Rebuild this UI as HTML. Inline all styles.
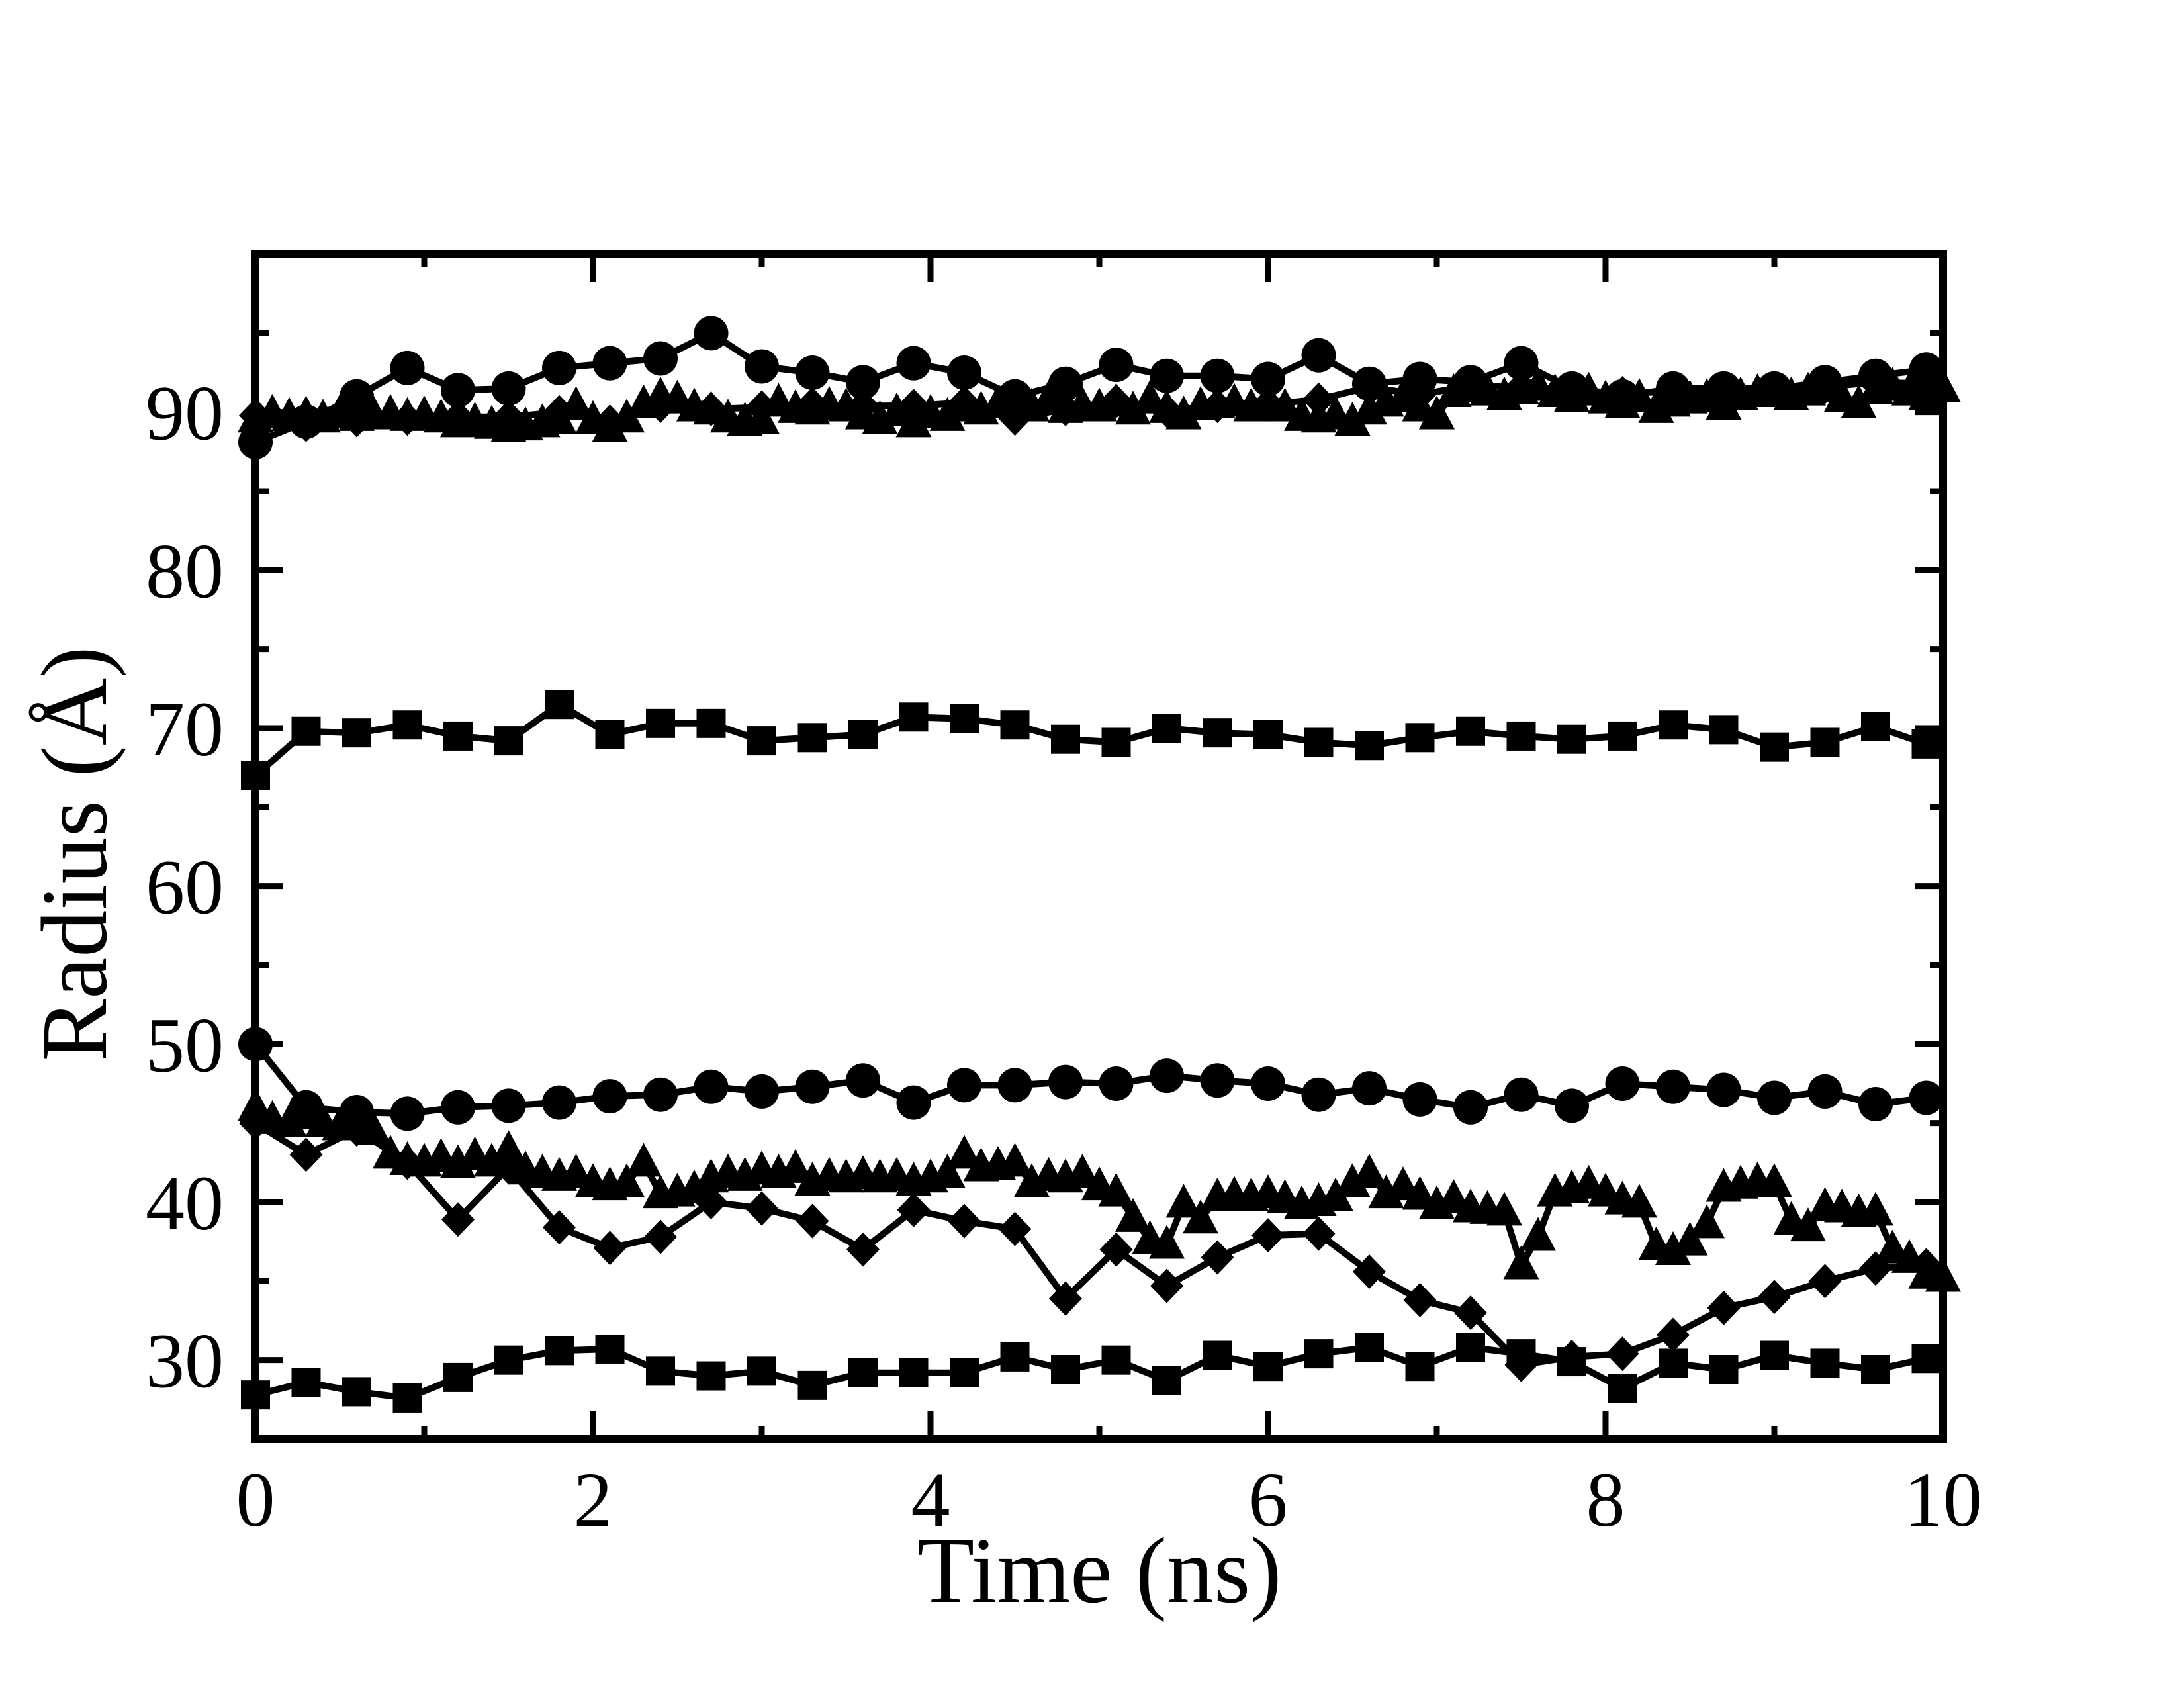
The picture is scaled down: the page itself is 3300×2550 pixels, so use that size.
<!DOCTYPE html>
<html><head><meta charset="utf-8"><style>
html,body{margin:0;padding:0;background:#fff;}
svg{display:block;}
text{font-family:"Liberation Serif",serif;fill:#000;}
</style></head><body>
<svg id="chart" width="3300" height="2550" viewBox="0 0 3300 2550" xmlns="http://www.w3.org/2000/svg">
<rect width="3300" height="2550" fill="#fff"/>
<g id="series"></g>
<g id="axes"></g>
<text x="1661" y="2420" font-size="142" text-anchor="middle">Time (ns)</text>
<text transform="translate(160,1290) rotate(-90)" font-size="142" text-anchor="middle">Radius (Å)</text>
</svg>
<script>
const xTicks=[0,2,4,6,8,10];
const yTicks=[30,40,50,60,70,80,90];
const xTickLabels=["0","2","4","6","8","10"];
const yTickLabels=["30","40","50","60","70","80","90"];
const sqLow=[27.8,28.6,28.0,27.6,28.9,30.0,30.6,30.7,29.3,29.0,29.3,28.4,29.2,29.2,29.2,30.2,29.4,30.0,28.7,30.3,29.6,30.4,30.8,29.6,30.8,30.4,29.9,28.2,29.8,29.4,30.3,29.8,29.4,30.1];
const sqHigh=[67.0,69.8,69.7,70.2,69.5,69.2,71.5,69.6,70.3,70.3,69.2,69.4,69.6,70.7,70.6,70.2,69.3,69.1,70.0,69.7,69.6,69.1,68.9,69.4,69.8,69.5,69.3,69.5,70.2,69.9,68.8,69.1,70.1,69.0];
const circLow=[50.0,46.0,45.7,45.6,46.0,46.1,46.3,46.7,46.8,47.3,47.0,47.3,47.7,46.3,47.4,47.4,47.6,47.5,48.0,47.7,47.5,46.8,47.2,46.5,46.0,46.8,46.1,47.5,47.3,47.1,46.6,47.0,46.2,46.6];
const circHigh=[88.1,89.4,91.0,92.8,91.4,91.5,92.8,93.1,93.4,95.0,92.9,92.5,91.9,93.1,92.5,91.0,91.8,93.0,92.3,92.3,92.1,93.6,91.8,92.1,91.9,93.1,91.5,91.0,91.5,91.5,91.5,91.9,92.3,92.7];
const diaLow=[45.0,43.0,44.6,42.5,38.9,42.2,38.4,37.1,37.8,40.0,39.6,38.8,37.0,39.5,38.8,38.3,33.9,37.0,34.7,36.5,37.9,38.0,35.6,33.8,33.0,29.7,30.2,30.4,31.6,33.3,34.0,35.0,35.8,36.0];
const diaHigh=[89.8,89.2,89.5,89.6,89.7,89.7,90.0,89.4,90.4,90.2,90.3,90.5,90.4,90.4,90.6,89.6,90.2,90.7,90.1,90.4,90.5,90.8,91.6,91.1,91.7,91.6,91.4,91.2,91.3,91.2,91.4,91.6,91.9,91.8];
const triLow=[46.0,45.2,45.0,45.5,45.0,44.8,45.3,44.5,43.0,42.6,42.5,42.8,42.4,42.9,42.5,43.3,42.0,41.8,41.6,41.8,41.2,41.0,41.2,42.5,40.5,40.6,40.8,41.5,41.8,41.6,42.0,41.8,42.1,41.3,41.6,41.5,41.7,41.5,41.6,41.3,41.5,41.8,43.0,42.2,42.3,42.5,41.2,41.6,41.5,41.8,41.0,40.6,39.0,37.6,37.3,39.9,38.9,40.3,40.4,40.3,40.5,40.2,39.8,40.0,40.3,41.2,41.8,40.5,41.0,40.4,39.8,40.2,39.6,39.5,39.4,36.0,37.8,40.6,40.8,41.1,40.6,40.1,39.9,37.2,36.9,37.5,38.6,40.9,41.1,41.3,41.2,38.8,38.4,39.7,39.6,39.3,39.4,37.0,36.4,35.4,35.2];
const triHigh=[89.6,89.9,89.7,89.8,89.6,89.9,89.7,89.8,89.9,89.7,89.8,89.6,89.3,89.4,89.2,89.0,89.1,89.3,89.5,90.4,89.5,89.0,89.6,90.5,91.0,90.8,90.3,90.1,89.6,89.4,89.5,90.6,90.2,90.1,90.4,90.3,89.8,89.5,90.0,89.3,89.9,89.7,90.3,90.1,90.5,90.6,90.3,90.8,90.2,90.4,90.3,90.6,90.1,90.8,90.2,89.8,90.4,90.5,90.6,90.3,90.4,90.3,89.7,89.6,89.8,89.4,90.1,90.6,90.9,90.3,89.8,91.2,91.5,91.3,91.0,91.4,91.6,91.2,90.9,91.3,90.8,90.5,90.9,90.2,90.6,90.8,90.9,90.4,91.0,91.2,91.4,91.0,91.3,91.5,90.9,90.5,91.4,91.6,91.3,91.0,91.5];

const X0=386,X1=2936,Y0=2174,Y1=384,XMIN=0,XMAX=10,YMIN=25,YMAX=100;
const sx=v=>X0+(v-XMIN)/(XMAX-XMIN)*(X1-X0);
const sy=v=>Y0-(v-YMIN)/(YMAX-YMIN)*(Y0-Y1);
const NS="http://www.w3.org/2000/svg";
const gS=document.getElementById('series');
const gA=document.getElementById('axes');
function mk(tag,attrs,parent){const e=document.createElementNS(NS,tag);for(const k in attrs)e.setAttribute(k,attrs[k]);parent.appendChild(e);return e;}

function drawSeries(vals,step,shape,name){
  const g=mk('g',{},gS);
  
  
  const pts=vals.map((v,i)=>[sx(i*step),sy(v)]);
  const line=mk('polyline',{points:pts.map(p=>p[0].toFixed(1)+','+p[1].toFixed(1)).join(' '),fill:'none',stroke:'#000','stroke-width':10,'stroke-linejoin':'miter'},g);
  
  
  pts.forEach(([x,y])=>{
    let m;
    if(shape==='circle'){m=mk('circle',{cx:x,cy:y,r:26,fill:'#000'},g);}
    else if(shape==='square'){m=mk('rect',{x:x-22,y:y-22,width:44,height:44,fill:'#000'},g);}
    else if(shape==='triangle'){m=mk('polygon',{points:`${x},${y-30} ${x-27},${y+21} ${x+27},${y+21}`,fill:'#000'},g);}
    else {m=mk('polygon',{points:`${x},${y-26} ${x+25},${y} ${x},${y+26} ${x-25},${y}`,fill:'#000'},g);}
    
    
  });
}
drawSeries(sqLow,0.3,'square','square-series-low');
drawSeries(sqHigh,0.3,'square','square-series-high');
drawSeries(circLow,0.3,'circle','circle-series-low');
drawSeries(circHigh,0.3,'circle','circle-series-high');
drawSeries(triLow,0.1,'triangle','triangle-series-low');
drawSeries(triHigh,0.1,'triangle','triangle-series-high');
drawSeries(diaLow,0.3,'diamond','diamond-series-low');
drawSeries(diaHigh,0.3,'diamond','diamond-series-high');

// frame
const fr=mk('rect',{x:X0,y:Y1,width:X1-X0,height:Y0-Y1,fill:'none',stroke:'#000','stroke-width':12},gA);


// x ticks (major every 2, minor every 1)
for(let v=XMIN;v<=XMAX;v+=1){
  const major=(v%2===0);const L=major?42:20;const x=sx(v);
  const t1=mk('line',{x1:x,y1:Y0,x2:x,y2:Y0-L,stroke:'#000','stroke-width':9},gA);
  
  
  const t2=mk('line',{x1:x,y1:Y1,x2:x,y2:Y1+L,stroke:'#000','stroke-width':9},gA);
  
  
}
for(let v=30;v<=95;v+=5){
  const major=(v%10===0);const L=major?42:20;const y=sy(v);
  const t1=mk('line',{x1:X0,y1:y,x2:X0+L,y2:y,stroke:'#000','stroke-width':9},gA);
  
  
  const t2=mk('line',{x1:X1,y1:y,x2:X1-L,y2:y,stroke:'#000','stroke-width':9},gA);
  
  
}
xTicks.forEach((v,i)=>{
  const t=mk('text',{x:sx(v),y:2305,'font-size':118,'text-anchor':'middle'},gA);
  t.textContent=xTickLabels[i];
  
  
});
yTicks.forEach((v,i)=>{
  const t=mk('text',{x:338,y:sy(v)+41,'font-size':118,'text-anchor':'end'},gA);
  t.textContent=yTickLabels[i];
  
  
});
</script>
</body></html>
